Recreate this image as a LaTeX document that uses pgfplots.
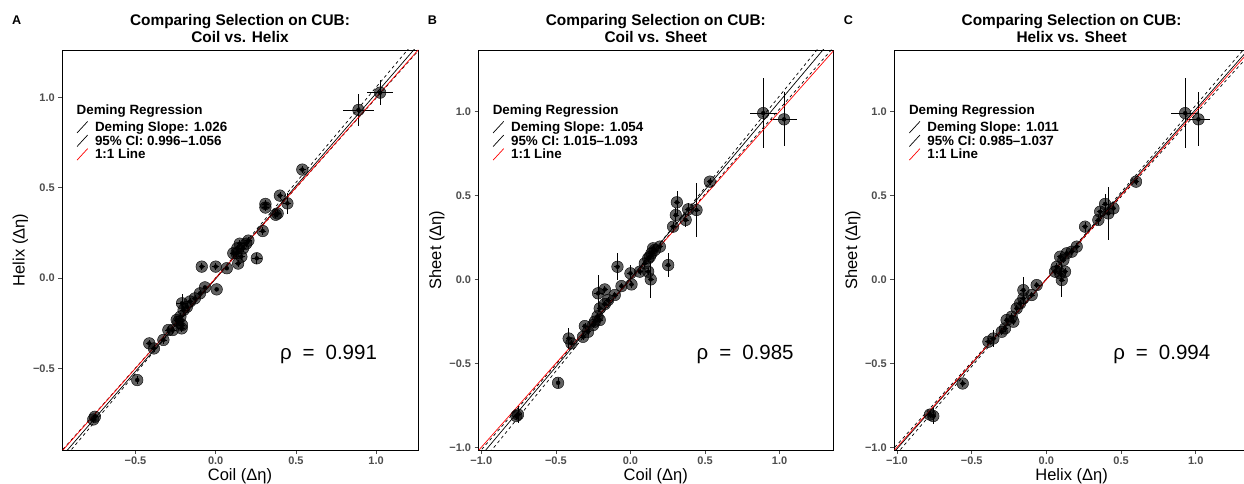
\documentclass[border=0pt]{standalone}
\usepackage{fontspec}
\setmainfont{Liberation Sans}
\usepackage{pgfplots}
\pgfplotsset{compat=1.18}
\usepackage{pgfplotstable}
\definecolor{tickgray}{HTML}{4D4D4D}

\pgfplotstableread{
x y ex ey
1.025 1.026 0.08 0.07
0.89 0.93 0.094 0.09
0.54 0.60 0.02 0.02
0.40 0.456 0.02 0.02
0.447 0.413 0.025 0.06
0.31 0.41 0.02 0.02
0.31 0.39 0.02 0.02
0.374 0.35 0.02 0.02
0.386 0.357 0.02 0.02
0.293 0.26 0.02 0.02
0.256 0.109 0.03 0.03
0.204 0.207 0.02 0.02
0.15 0.19 0.02 0.02
0.13 0.137 0.02 0.02
0.16 0.118 0.02 0.02
0.14 0.08 0.02 0.02
0.11 0.137 0.02 0.02
0.17 0.164 0.02 0.02
0.19 0.19 0.02 0.02
0.135 0.165 0.02 0.02
0.069 0.054 0.01 0.01
0.0 0.063 0.02 0.02
-0.087 0.063 0.02 0.02
0.006 -0.063 0.01 0.01
-0.067 -0.052 0.01 0.01
-0.098 -0.085 0.02 0.02
-0.13 -0.113 0.02 0.02
-0.16 -0.13 0.02 0.02
-0.21 -0.14 0.04 0.05
-0.18 -0.16 0.02 0.02
-0.2 -0.177 0.02 0.02
-0.22 -0.214 0.02 0.02
-0.233 -0.242 0.02 0.02
-0.21 -0.26 0.02 0.02
-0.243 -0.232 0.02 0.02
-0.268 -0.288 0.02 0.02
-0.212 -0.279 0.02 0.02
-0.295 -0.288 0.02 0.02
-0.326 -0.343 0.02 0.02
-0.385 -0.39 0.02 0.02
-0.414 -0.362 0.02 0.02
-0.489 -0.565 0.01 0.02
-0.753 -0.768 0.02 0.02
-0.763 -0.783 0.02 0.02
}\dataA

\pgfplotstableread{
x y ex ey
0.89 0.99 0.09 0.21
1.03 0.953 0.085 0.16
0.532 0.582 0.02 0.02
0.311 0.459 0.02 0.07
0.443 0.413 0.02 0.16
0.387 0.417 0.02 0.04
0.304 0.383 0.02 0.04
0.37 0.354 0.02 0.04
0.286 0.314 0.02 0.03
0.197 0.195 0.02 0.02
0.163 0.175 0.02 0.02
0.141 0.155 0.02 0.02
0.13 0.135 0.02 0.02
0.152 0.185 0.02 0.02
0.119 0.125 0.02 0.02
0.253 0.085 0.02 0.07
0.096 0.095 0.02 0.02
0.119 0.046 0.02 0.02
0.136 0.0 0.02 0.11
0.063 0.046 0.02 0.02
0.0 0.036 0.02 0.05
0.007 -0.03 0.02 0.02
-0.087 0.075 0.02 0.08
-0.06 -0.04 0.02 0.02
-0.105 -0.093 0.02 0.02
-0.172 -0.06 0.02 0.02
-0.217 -0.083 0.03 0.11
-0.15 -0.123 0.02 0.02
-0.172 -0.147 0.02 0.02
-0.206 -0.173 0.02 0.02
-0.221 -0.22 0.02 0.02
-0.239 -0.252 0.02 0.02
-0.206 -0.242 0.02 0.02
-0.25 -0.272 0.02 0.02
-0.306 -0.278 0.02 0.02
-0.284 -0.312 0.02 0.02
-0.318 -0.342 0.02 0.02
-0.414 -0.352 0.02 0.06
-0.396 -0.381 0.02 0.02
-0.485 -0.616 0.01 0.03
-0.754 -0.805 0.02 0.05
-0.765 -0.814 0.02 0.02
}\dataB

\pgfplotstableread{
x y ex ey
0.929 0.99 0.095 0.21
1.018 0.953 0.08 0.16
0.60 0.582 0.02 0.02
0.393 0.449 0.02 0.06
0.449 0.423 0.02 0.04
0.415 0.393 0.02 0.16
0.36 0.403 0.02 0.03
0.348 0.354 0.02 0.03
0.259 0.314 0.02 0.03
0.203 0.195 0.02 0.02
0.17 0.165 0.02 0.02
0.136 0.155 0.02 0.02
0.114 0.115 0.02 0.02
0.092 0.135 0.02 0.02
0.069 0.075 0.02 0.02
0.058 0.046 0.02 0.02
0.092 0.036 0.02 0.02
0.125 0.046 0.02 0.02
0.103 -0.004 0.02 0.1
-0.065 -0.034 0.02 0.02
-0.098 -0.093 0.02 0.02
-0.154 -0.064 0.02 0.08
-0.154 -0.113 0.02 0.02
-0.176 -0.143 0.02 0.02
-0.199 -0.173 0.02 0.02
-0.232 -0.222 0.02 0.02
-0.266 -0.242 0.02 0.02
-0.221 -0.252 0.02 0.02
-0.277 -0.292 0.02 0.02
-0.299 -0.312 0.02 0.02
-0.355 -0.352 0.02 0.05
-0.388 -0.371 0.02 0.02
-0.56 -0.62 0.02 0.02
-0.779 -0.805 0.02 0.02
-0.757 -0.814 0.02 0.05
}\dataC

\pgfplotsset{
 panel/.style={
  scale only axis, height=400pt,
  axis line style={black, line width=0.7pt},
  xtick pos=lower, ytick pos=left,
  tick align=outside, major tick length=3.7pt,
  tick style={tickgray, line width=0.7pt},
  tick label style={font=\bfseries\fontsize{11}{11}\selectfont, text=tickgray},
  clip=true,
  legend style={draw=none, fill=none, inner sep=0pt, outer sep=0pt, row sep=0pt,
    column sep=7pt, anchor=north west,
    font=\bfseries\fontsize{13.4}{13.4}\selectfont,
    nodes={inner sep=0pt, outer sep=0pt, text height=9.6pt, text depth=2.9pt}},
  legend cell align=left,
  legend image code/.code={\draw[##1] (0pt,-4.5pt) -- (10.6pt,7pt);},
 },
 pts/.style={only marks, mark=*, mark size=5.8pt, forget plot,
   mark options={draw=none, fill=black, fill opacity=0.62}},
 ebar/.style={only marks, mark=none, forget plot,
   error bars/.cd, x dir=both, x explicit, y dir=both, y explicit,
   error mark=none, error bar style={black, line width=0.6pt}},
}

\begin{document}
\begin{tikzpicture}
\useasboundingbox (0,0) rectangle (1244pt,484pt);

% ---------- Panel A ----------
\begin{axis}[panel, at={(62pt,34pt)}, anchor=south west, width=356pt,
  xmin=-0.958, xmax=1.261, ymin=-0.952, ymax=1.262,
  xtick={-0.5,0,0.5,1}, xticklabels={\textbf{−0.5},\textbf{0.0},\textbf{0.5},\textbf{1.0}},
  ytick={-0.5,0,0.5,1}, yticklabels={\textbf{−0.5},\textbf{0.0},\textbf{0.5},\textbf{1.0}},
  legend style={at={(0.0413,0.8223)}}]
\addplot[pts] table[x=x,y=y] {\dataA};
\addplot[ebar] table[x=x,y=y,x error=ex,y error=ey] {\dataA};
\addplot[black, line width=0.7pt, dash pattern=on 3pt off 3pt, forget plot] coordinates {(-1.5,-1.584) (1.5,1.584)};
\addplot[black, line width=0.7pt, dash pattern=on 3pt off 3pt, forget plot] coordinates {(-1.5,-1.494) (1.5,1.494)};
\addplot[black, line width=0.7pt, forget plot] coordinates {(-1.5,-1.543) (1.5,1.535)};
\addplot[red, line width=0.7pt, forget plot] coordinates {(-1.5,-1.5) (1.5,1.5)};
\addlegendimage{black, line width=0.7pt}
\addlegendentry{Deming Slope: 1.026}
\addlegendimage{black, line width=0.7pt}
\addlegendentry{95\% CI: 0.996–1.056}
\addlegendimage{red, line width=0.7pt}
\addlegendentry{1:1 Line}
\end{axis}

% ---------- Panel B ----------
\begin{axis}[panel, at={(478.3pt,34pt)}, anchor=south west, width=355pt,
  xmin=-1.02, xmax=1.36, ymin=-1.016, ymax=1.366,
  xtick={-1,-0.5,0,0.5,1}, xticklabels={\textbf{−1.0},\textbf{−0.5},\textbf{0.0},\textbf{0.5},\textbf{1.0}},
  ytick={-1,-0.5,0,0.5,1}, yticklabels={\textbf{−1.0},\textbf{−0.5},\textbf{0.0},\textbf{0.5},\textbf{1.0}},
  legend style={at={(0.0408,0.8223)}}]
\addplot[pts] table[x=x,y=y] {\dataB};
\addplot[ebar] table[x=x,y=y,x error=ex,y error=ey] {\dataB};
\addplot[black, line width=0.7pt, dash pattern=on 3pt off 3pt, forget plot] coordinates {(-1.5,-1.6395) (1.5,1.6395)};
\addplot[black, line width=0.7pt, dash pattern=on 3pt off 3pt, forget plot] coordinates {(-1.5,-1.5225) (1.5,1.5225)};
\addplot[black, line width=0.7pt, forget plot] coordinates {(-1.5,-1.575) (1.5,1.587)};
\addplot[red, line width=0.7pt, forget plot] coordinates {(-1.5,-1.5) (1.5,1.5)};
\addlegendimage{black, line width=0.7pt}
\addlegendentry{Deming Slope: 1.054}
\addlegendimage{black, line width=0.7pt}
\addlegendentry{95\% CI: 1.015–1.093}
\addlegendimage{red, line width=0.7pt}
\addlegendentry{1:1 Line}
\end{axis}

% ---------- Panel C ----------
\begin{axis}[panel, at={(894pt,34pt)}, anchor=south west, width=350pt,
  xmin=-1.02, xmax=1.323, ymin=-1.016, ymax=1.366,
  xtick={-1,-0.5,0,0.5,1}, xticklabels={\textbf{−1.0},\textbf{−0.5},\textbf{0.0},\textbf{0.5},\textbf{1.0}},
  ytick={-1,-0.5,0,0.5,1}, yticklabels={\textbf{−1.0},\textbf{−0.5},\textbf{0.0},\textbf{0.5},\textbf{1.0}},
  legend style={at={(0.0429,0.8223)}}]
\addplot[pts] table[x=x,y=y] {\dataC};
\addplot[ebar] table[x=x,y=y,x error=ex,y error=ey] {\dataC};
\addplot[black, line width=0.7pt, dash pattern=on 3pt off 3pt, forget plot] coordinates {(-1.5,-1.5555) (1.5,1.5555)};
\addplot[black, line width=0.7pt, dash pattern=on 3pt off 3pt, forget plot] coordinates {(-1.5,-1.4775) (1.5,1.4775)};
\addplot[black, line width=0.7pt, forget plot] coordinates {(-1.5,-1.5145) (1.5,1.5185)};
\addplot[red, line width=0.7pt, forget plot] coordinates {(-1.5,-1.5) (1.5,1.5)};
\addlegendimage{black, line width=0.7pt}
\addlegendentry{Deming Slope: 1.011}
\addlegendimage{black, line width=0.7pt}
\addlegendentry{95\% CI: 0.985–1.037}
\addlegendimage{red, line width=0.7pt}
\addlegendentry{1:1 Line}
\end{axis}

% ---------- Text ----------
\begin{scope}[every node/.style={inner sep=0pt, outer sep=0pt}]
\foreach \px/\L in {16.7/A, 432.3/B, 848.3/C}
  \node[font=\bfseries\fontsize{12.6}{12.6}\selectfont] at (\px pt,464pt) {\L};
\def\tfont{\bfseries\fontsize{15.4}{15.4}\selectfont}
\node[font=\tfont, anchor=base] at (240pt,458pt) {Comparing Selection on CUB:};
\node[font=\tfont, anchor=base] at (240pt,441.7pt) {Coil vs. Helix};
\node[font=\tfont, anchor=base] at (655.8pt,458pt) {Comparing Selection on CUB:};
\node[font=\tfont, anchor=base] at (655.8pt,441.7pt) {Coil vs. Sheet};
\node[font=\tfont, anchor=base] at (1071.6pt,458pt) {Comparing Selection on CUB:};
\node[font=\tfont, anchor=base] at (1071.6pt,441.7pt) {Helix vs. Sheet};
\def\lfont{\fontsize{16.5}{16.5}\selectfont}
\node[font=\lfont, anchor=base] at (240pt,3pt) {Coil (Δη)};
\node[font=\lfont, anchor=base] at (655.8pt,3pt) {Coil (Δη)};
\node[font=\lfont, anchor=base] at (1071.6pt,3pt) {Helix (Δη)};
\node[font=\lfont, anchor=base, rotate=90] at (24.5pt,234pt) {Helix (Δη)};
\node[font=\lfont, anchor=base, rotate=90] at (441pt,234pt) {Sheet (Δη)};
\node[font=\lfont, anchor=base, rotate=90] at (857pt,234pt) {Sheet (Δη)};
\def\rfont{\fontsize{20.5}{20.5}\selectfont}
\node[font=\rfont, anchor=base west] at (280pt,124pt) {ρ\hspace{11pt}=\hspace{11pt}0.991};
\node[font=\rfont, anchor=base west] at (696.7pt,124pt) {ρ\hspace{11pt}=\hspace{11pt}0.985};
\node[font=\rfont, anchor=base west] at (1113.3pt,124pt) {ρ\hspace{11pt}=\hspace{11pt}0.994};
\def\gfont{\bfseries\fontsize{13.4}{13.4}\selectfont}
\node[font=\gfont, anchor=base west] at (76.7pt,369.7pt) {Deming Regression};
\node[font=\gfont, anchor=base west] at (492.8pt,369.7pt) {Deming Regression};
\node[font=\gfont, anchor=base west] at (909pt,369.7pt) {Deming Regression};
\end{scope}
\end{tikzpicture}
\end{document}
